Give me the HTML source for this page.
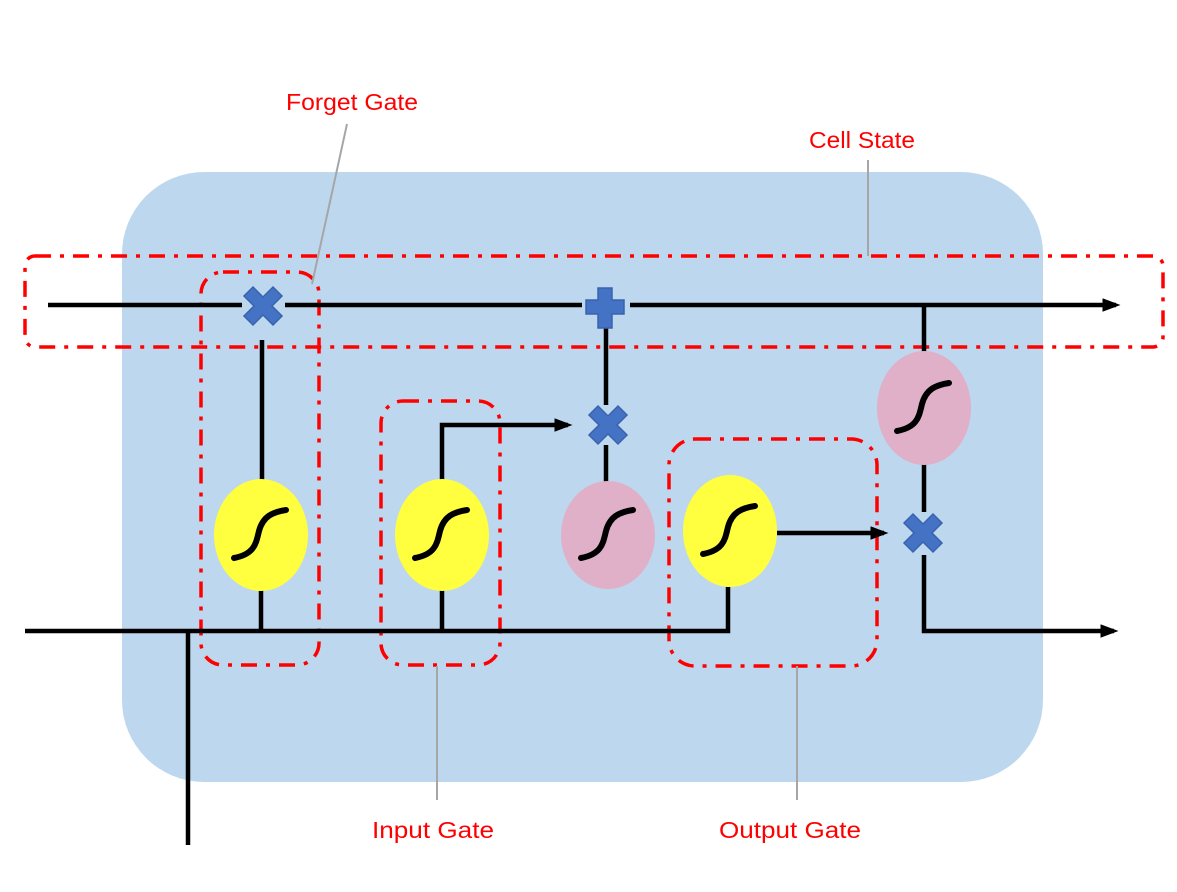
<!DOCTYPE html>
<html><head><meta charset="utf-8"><style>html,body{margin:0;padding:0;background:#fff}svg{display:block}</style></head>
<body>
<svg width="1177" height="892" viewBox="0 0 1177 892" xmlns="http://www.w3.org/2000/svg">
<defs>
<marker id="ah" markerWidth="5" markerHeight="4" refX="3" refY="1.5" orient="auto" markerUnits="strokeWidth">
<path d="M0,0 L4,1.5 L0,3 z" fill="#000"/></marker>
<g id="cross"><path d="M-10,-19 L0,-9 L10,-19 L19,-10 L9,0 L19,10 L10,19 L0,9 L-10,19 L-19,10 L-9,0 L-19,-10 Z" fill="#4472c4" stroke="#3a63ad" stroke-width="1.5"/></g>
<path id="sig" d="M-27,23 C-6,19 -5,8 -2,-4 C2,-19 12,-23 25,-25" fill="none" stroke="#000" stroke-width="6" stroke-linecap="round"/>
</defs>
<rect x="122" y="172" width="921" height="610" rx="82" fill="#bdd7ee"/>
<g fill="none" stroke="#ff0000" stroke-width="3.5" stroke-dasharray="16,9,4,9">
<rect x="25" y="256" width="1138" height="91" rx="10"/>
<rect x="201" y="272" width="118" height="393" rx="22"/>
<rect x="381" y="401" width="119" height="264" rx="22"/>
<rect x="669" y="439" width="208" height="227" rx="26"/>
</g>
<g stroke="#a6a6a6" stroke-width="2" fill="none">
<line x1="347" y1="124" x2="312" y2="284"/>
<line x1="868" y1="160" x2="868" y2="256"/>
<line x1="437" y1="666" x2="437" y2="800"/>
<line x1="797" y1="666" x2="797" y2="800"/>
</g>
<g stroke="#000" stroke-width="4.5" fill="none">
<line x1="48" y1="305" x2="242" y2="305"/>
<line x1="285" y1="305" x2="582" y2="305"/>
<line x1="630" y1="305" x2="1116" y2="305" marker-end="url(#ah)"/>
<line x1="262" y1="340" x2="262" y2="480"/>
<line x1="606" y1="325" x2="606" y2="405"/>
<line x1="606" y1="445" x2="606" y2="482"/>
<polyline points="442,480 442,425 568,425" marker-end="url(#ah)"/>
<line x1="777" y1="533" x2="884" y2="533" marker-end="url(#ah)"/>
<line x1="924" y1="305" x2="924" y2="352"/>
<line x1="924" y1="464" x2="924" y2="512"/>
<polyline points="924,555 924,631 1114,631" marker-end="url(#ah)"/>
<polyline points="25,631 728,631 728,587"/>
<line x1="261" y1="631" x2="261" y2="588"/>
<line x1="442" y1="631" x2="442" y2="588"/>
<line x1="188" y1="631" x2="188" y2="845"/>
</g>
<ellipse cx="261" cy="535" rx="47" ry="56" fill="#ffff40"/>
<use href="#sig" x="261" y="535"/>
<ellipse cx="442" cy="535" rx="47" ry="56" fill="#ffff40"/>
<use href="#sig" x="442" y="535"/>
<ellipse cx="608" cy="535" rx="47" ry="54" fill="#e0b0c8"/>
<use href="#sig" x="608" y="535"/>
<ellipse cx="730" cy="531" rx="47" ry="56" fill="#ffff40"/>
<use href="#sig" x="730" y="531"/>
<ellipse cx="924" cy="408" rx="47" ry="57" fill="#e0b0c8"/>
<use href="#sig" x="924" y="408"/>
<use href="#cross" x="263" y="306"/>
<use href="#cross" x="608" y="425"/>
<use href="#cross" x="923" y="533"/>
<path d="M598,288 H612 V300 H624 V314 H612 V328 H598 V314 H586 V300 H598 Z" fill="#4472c4" stroke="#3a63ad" stroke-width="1.5"/>
<g font-family="Liberation Sans, sans-serif" font-size="23" fill="#ff0000" text-anchor="middle">
<text x="352" y="110" textLength="132" lengthAdjust="spacingAndGlyphs">Forget Gate</text>
<text x="862" y="148" textLength="106" lengthAdjust="spacingAndGlyphs">Cell State</text>
<text x="433" y="838" textLength="122" lengthAdjust="spacingAndGlyphs">Input Gate</text>
<text x="790" y="838" textLength="142" lengthAdjust="spacingAndGlyphs">Output Gate</text>
</g>
</svg>
</body></html>
